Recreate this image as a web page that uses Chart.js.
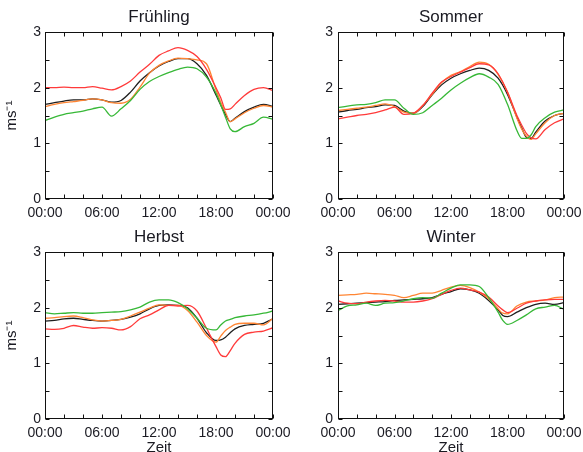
<!DOCTYPE html>
<html lang="de">
<head>
<meta charset="utf-8">
<title>Tagesgang Windgeschwindigkeit</title>
<script src="https://cdn.jsdelivr.net/npm/chart.js@4.4.1/dist/chart.umd.min.js"></script>
<style>
  html, body { margin: 0; padding: 0; background: #fff; }
  body { width: 583px; height: 452px; overflow: hidden; position: relative; }
  .panel { position: absolute; }
  .panel canvas { display: block; }
</style>
</head>
<body>
<div class="panel" style="left:0;top:0"><canvas id="c-fr" width="290" height="220"></canvas></div>
<div class="panel" style="left:290px;top:0"><canvas id="c-so" width="293" height="220"></canvas></div>
<div class="panel" style="left:0;top:220px"><canvas id="c-he" width="290" height="240"></canvas></div>
<div class="panel" style="left:290px;top:220px"><canvas id="c-wi" width="293" height="240"></canvas></div>
<script>
// Stunden (x) je Jahreszeit
const HOURS_FR = [0,1,2,3,4,5,6,7,8,9,10,11,12,13,14,15,16,17,18,18.5,19,19.5,20,21,22,23,24];
const HOURS_SO = [0,1,2,3,4,5,6,7,8,9,10,11,12,13,14,15,16,17,18,19,19.5,20,20.5,21,22,23,24];
const HOURS_HE = [0,1,2,3,4,5,6,7,8,9,10,11,12,13,14,15,16,17,18,18.5,19,19.5,20,21,22,23,24];
const HOURS_WI = [0,1,2,3,4,5,6,7,8,9,10,11,12,13,14,15,16,17,17.5,18,19,20,21,22,23,24];

// Frühling
const FR_BLACK  = [1.70,1.73,1.76,1.78,1.78,1.80,1.78,1.74,1.77,1.92,2.12,2.27,2.39,2.47,2.52,2.52,2.43,2.22,1.87,1.69,1.52,1.39,1.45,1.57,1.65,1.70,1.66];
const FR_ORANGE = [1.66,1.70,1.73,1.75,1.77,1.80,1.78,1.73,1.72,1.79,2.01,2.26,2.40,2.48,2.53,2.52,2.50,2.43,1.96,1.74,1.56,1.39,1.44,1.55,1.63,1.68,1.65];
const FR_RED    = [2.00,2.00,2.01,2.00,2.00,2.02,1.99,1.96,2.02,2.12,2.28,2.42,2.58,2.66,2.72,2.67,2.56,2.33,2.00,1.82,1.61,1.62,1.70,1.86,1.97,2.00,1.95];
const FR_GREEN  = [1.41,1.47,1.52,1.55,1.58,1.62,1.65,1.49,1.62,1.77,1.97,2.11,2.20,2.27,2.33,2.37,2.34,2.19,1.90,1.69,1.47,1.26,1.21,1.30,1.36,1.47,1.43];

// Sommer
const SO_BLACK  = [1.56,1.59,1.61,1.64,1.66,1.69,1.68,1.58,1.54,1.66,1.87,2.05,2.17,2.25,2.31,2.35,2.31,2.17,1.88,1.47,1.28,1.11,1.09,1.20,1.40,1.50,1.54];
const SO_ORANGE = [1.59,1.61,1.63,1.65,1.68,1.71,1.66,1.56,1.54,1.68,1.88,2.09,2.22,2.29,2.38,2.46,2.42,2.24,1.92,1.45,1.26,1.13,1.07,1.17,1.37,1.50,1.54];
const SO_RED    = [1.44,1.47,1.50,1.52,1.55,1.60,1.65,1.52,1.54,1.68,1.90,2.10,2.20,2.28,2.36,2.43,2.41,2.25,1.92,1.50,1.33,1.18,1.10,1.08,1.25,1.37,1.44];
const SO_GREEN  = [1.64,1.67,1.69,1.70,1.73,1.78,1.78,1.63,1.52,1.55,1.68,1.81,1.96,2.08,2.18,2.25,2.19,2.06,1.70,1.23,1.09,1.09,1.15,1.30,1.46,1.56,1.60];

// Herbst
const HE_BLACK  = [1.76,1.77,1.80,1.81,1.79,1.77,1.76,1.77,1.79,1.83,1.89,1.98,2.04,2.05,2.04,2.00,1.81,1.55,1.41,1.42,1.47,1.55,1.62,1.68,1.70,1.72,1.80];
const HE_ORANGE = [1.81,1.82,1.84,1.85,1.82,1.78,1.76,1.77,1.79,1.85,1.92,1.99,2.05,2.04,2.04,1.95,1.74,1.50,1.38,1.49,1.59,1.65,1.70,1.72,1.72,1.69,1.81];
const HE_RED    = [1.62,1.61,1.63,1.68,1.65,1.63,1.64,1.63,1.60,1.66,1.80,1.87,1.96,2.04,2.03,2.04,1.94,1.63,1.30,1.15,1.12,1.23,1.36,1.52,1.56,1.58,1.64];
const HE_GREEN  = [1.91,1.89,1.90,1.91,1.90,1.90,1.91,1.92,1.93,1.96,2.01,2.10,2.14,2.14,2.09,1.98,1.81,1.63,1.60,1.69,1.76,1.79,1.82,1.85,1.87,1.90,1.94];

// Winter
const WI_BLACK  = [2.06,2.07,2.08,2.09,2.10,2.11,2.13,2.14,2.15,2.16,2.18,2.24,2.29,2.34,2.32,2.26,2.13,1.96,1.86,1.84,1.92,2.00,2.06,2.08,2.06,2.09];
const WI_ORANGE = [2.22,2.23,2.24,2.26,2.25,2.24,2.22,2.18,2.22,2.26,2.26,2.31,2.37,2.40,2.36,2.28,2.16,1.98,1.90,1.89,2.03,2.10,2.12,2.14,2.18,2.19];
const WI_RED    = [2.12,2.08,2.07,2.10,2.12,2.13,2.12,2.10,2.10,2.12,2.16,2.24,2.31,2.35,2.32,2.28,2.19,2.03,1.96,1.91,1.99,2.08,2.12,2.14,2.15,2.15];
const WI_GREEN  = [1.95,2.03,2.05,2.08,2.04,2.08,2.09,2.12,2.16,2.18,2.17,2.26,2.35,2.41,2.41,2.38,2.18,1.92,1.77,1.70,1.77,1.87,1.98,2.01,2.04,1.97];

const Y_TICKS = [0, 1, 2, 3];
const X_TICK_STEP = 6;

const COLORS = { black: '#1e1e1e', orange: '#ff8533', red: '#ff3a3a', green: '#37b837' };
const TEXT = '#1a1a22';
const FONT = "'Liberation Sans', Arial, sans-serif";

// Rahmen mit nach innen zeigenden Ticks an allen vier Seiten
const frameTicks = {
    id: 'frameTicks',
    afterDraw(chart) {
        const { ctx, chartArea: a, scales: { x, y } } = chart;
        const len = 4;
        ctx.save();
        ctx.strokeStyle = '#111';
        ctx.lineWidth = 1;
        const l = Math.round(a.left) + 0.5, r = Math.round(a.right) - 0.5;
        const t = Math.round(a.top) + 0.5, b = Math.round(a.bottom) - 0.5;
        ctx.strokeRect(l, t, r - l, b - t);
        ctx.beginPath();
        for (let h = 0; h <= 24; h += 2) {
            const px = Math.round(x.getPixelForValue(h)) + 0.5;
            ctx.moveTo(px, b); ctx.lineTo(px, b - len);
            ctx.moveTo(px, t); ctx.lineTo(px, t + len);
        }
        for (let v = 0; v <= 3; v += 0.5) {
            const py = Math.round(y.getPixelForValue(v)) + 0.5;
            ctx.moveTo(l, py); ctx.lineTo(l + len, py);
            ctx.moveTo(r, py); ctx.lineTo(r - len, py);
        }
        ctx.stroke();
        ctx.restore();
    }
};

function line(hours, values, color) {
    return {
        data: hours.map((h, i) => ({ x: h, y: values[i] })),
        borderColor: color,
        borderWidth: 1.3,
        pointRadius: 0,
        fill: false,
        cubicInterpolationMode: 'monotone'
    };
}

function makePanel(id, season, hours, s, o) {
    new Chart(document.getElementById(id), {
        type: 'line',
        data: {
            datasets: [
                line(hours, s.green, COLORS.green),
                line(hours, s.red, COLORS.red),
                line(hours, s.orange, COLORS.orange),
                line(hours, s.black, COLORS.black)
            ]
        },
        options: {
            responsive: false,
            animation: false,
            devicePixelRatio: 1,
            layout: { padding: { left: 0, right: o.padRight, top: 0, bottom: 0 } },
            plugins: { legend: { display: false }, tooltip: { enabled: false } },
            scales: {
                x: {
                    type: 'linear', position: 'bottom', min: 0, max: 24,
                    grid: { display: false, drawTicks: false },
                    border: { display: false },
                    ticks: {
                        stepSize: X_TICK_STEP, autoSkip: false, maxRotation: 0, padding: 6,
                        color: TEXT, font: { family: FONT, size: 14 },
                        callback: v => String(v % 24).padStart(2, '0') + ':00'
                    },
                    title: {
                        display: o.zeit, text: 'Zeit', color: TEXT,
                        font: { family: FONT, size: 15 }, padding: { top: 0, bottom: 3 }
                    },
                    // Randabstand der Beschriftung nicht in die Plotbreite einrechnen
                    afterFit: sc => { sc.height = o.xHeight; sc.paddingLeft = 0; sc.paddingRight = 0; }
                },
                xTop: {
                    type: 'linear', position: 'top', min: 0, max: 24,
                    grid: { display: false, drawTicks: false },
                    border: { display: false },
                    ticks: { display: false },
                    title: {
                        display: true, text: season, color: TEXT,
                        font: { family: FONT, size: 17 }, padding: { top: 7, bottom: 0 }
                    },
                    afterFit: sc => { sc.height = 32; sc.paddingLeft = 0; sc.paddingRight = 0; }
                },
                y: {
                    min: 0, max: 3,
                    afterBuildTicks: sc => { sc.ticks = Y_TICKS.map(v => ({ value: v })); },
                    grid: { display: false, drawTicks: false },
                    border: { display: false },
                    ticks: { padding: o.yPad, color: TEXT, font: { family: FONT, size: 14 } },
                    title: {
                        display: o.unit, text: 'ms\u207B\u00B9', color: TEXT,
                        font: { family: FONT, size: 15 }, padding: { top: 3, bottom: 0 }
                    },
                    afterFit: sc => { sc.width = o.yWidth; }
                }
            }
        },
        plugins: [frameTicks]
    });
}

makePanel('c-fr', 'Frühling', HOURS_FR,
    { black: FR_BLACK, orange: FR_ORANGE, red: FR_RED, green: FR_GREEN },
    { yWidth: 45, padRight: 17, xHeight: 21, yPad: 4, unit: true, zeit: false });
makePanel('c-so', 'Sommer', HOURS_SO,
    { black: SO_BLACK, orange: SO_ORANGE, red: SO_RED, green: SO_GREEN },
    { yWidth: 48, padRight: 19, xHeight: 21, yPad: 5, unit: false, zeit: false });
makePanel('c-he', 'Herbst', HOURS_HE,
    { black: HE_BLACK, orange: HE_ORANGE, red: HE_RED, green: HE_GREEN },
    { yWidth: 45, padRight: 17, xHeight: 41, yPad: 4, unit: true, zeit: true });
makePanel('c-wi', 'Winter', HOURS_WI,
    { black: WI_BLACK, orange: WI_ORANGE, red: WI_RED, green: WI_GREEN },
    { yWidth: 48, padRight: 19, xHeight: 41, yPad: 5, unit: false, zeit: true });
</script>
</body>
</html>
